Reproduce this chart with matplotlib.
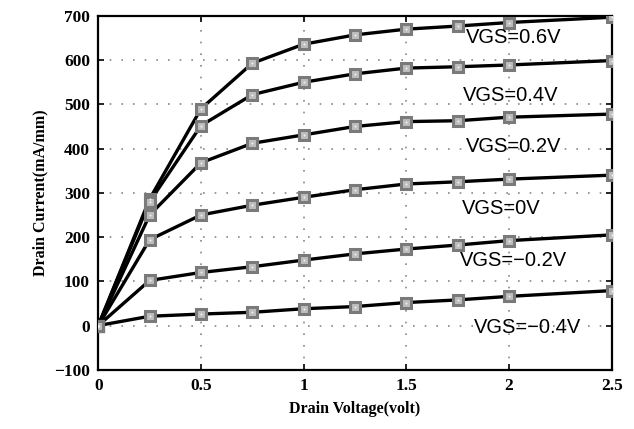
import matplotlib
matplotlib.use("Agg")
import matplotlib.pyplot as plt

# drain voltage sweep (V)
vds = [0, 0.25, 0.5, 0.75, 1.0, 1.25, 1.5, 1.75, 2.0, 2.5]

# drain current (mA/mm) per gate bias
id_p06 = [0, 286, 490, 593, 636, 657, 670, 677, 685, 697]
id_p04 = [0, 280, 452, 522, 550, 569, 582, 585, 589, 599]
id_p02 = [0, 250, 368, 412, 431, 450, 461, 463, 471, 478]
id_p00 = [0, 194, 250, 272, 290, 307, 320, 325, 331, 340]
id_m02 = [0, 102, 120, 133, 148, 162, 173, 182, 192, 205]
id_m04 = [0, 21, 26, 30, 38, 43, 52, 58, 66, 79]

curves = [id_p06, id_p04, id_p02, id_p00, id_m02, id_m04]
labels = ["VGS=0.6V", "VGS=0.4V", "VGS=0.2V", "VGS=0V", "VGS=\u22120.2V", "VGS=\u22120.4V"]
label_x = [2.02, 2.01, 2.02, 1.96, 2.02, 2.09]
label_y = [650, 521, 404, 264, 146, -5]

xticks = [0, 0.5, 1, 1.5, 2, 2.5]
yticks = [-100, 0, 100, 200, 300, 400, 500, 600, 700]

fig = plt.figure(figsize=(6.34, 4.29), dpi=100)
ax = fig.add_axes([0.155, 0.138, 0.81, 0.825])

for ys in curves:
    ax.plot(vds, ys, color="black", lw=2.4, zorder=3)
    ax.plot(vds, ys, ls="none", marker="s", ms=7, mfc="#bdbdbd",
            mec="#7a7a7a", mew=2.2, zorder=4)
    ax.plot(vds, ys, ls="none", marker="o", ms=1.5, mfc="#eeeeee",
            mec="none", zorder=5)

for t, x, y in zip(labels, label_x, label_y):
    ax.text(x, y, t, ha="center", va="center", fontsize=14.5,
            family="Liberation Sans", color="black", zorder=6)

ax.set_xlim(0, 2.5)
ax.set_ylim(-100, 700)
ax.set_xticks(xticks)
ax.set_xticklabels([f"{v:g}" for v in xticks])
ax.set_yticks(yticks)
ax.set_yticklabels([f"{v:g}".replace("-", "\u2212") for v in yticks])
ax.grid(True, color="#888888", ls=(0, (1, 6)), lw=1.2)
ax.tick_params(direction="in", top=True, right=True, length=4, width=1.2,
               labelsize=12.5, pad=6)
for lab in ax.get_xticklabels() + ax.get_yticklabels():
    lab.set_family("Liberation Serif")
    lab.set_fontweight("bold")
for s in ax.spines.values():
    s.set_linewidth(1.6)

ax.set_xlabel("Drain Voltage(volt)", family="Liberation Serif",
              fontweight="bold", fontsize=11.5, labelpad=5)
ax.set_ylabel("Drain Current(mA/mm)", family="Liberation Serif",
              fontweight="bold", fontsize=11.5, labelpad=4)

fig.savefig("out.png", dpi=100)
